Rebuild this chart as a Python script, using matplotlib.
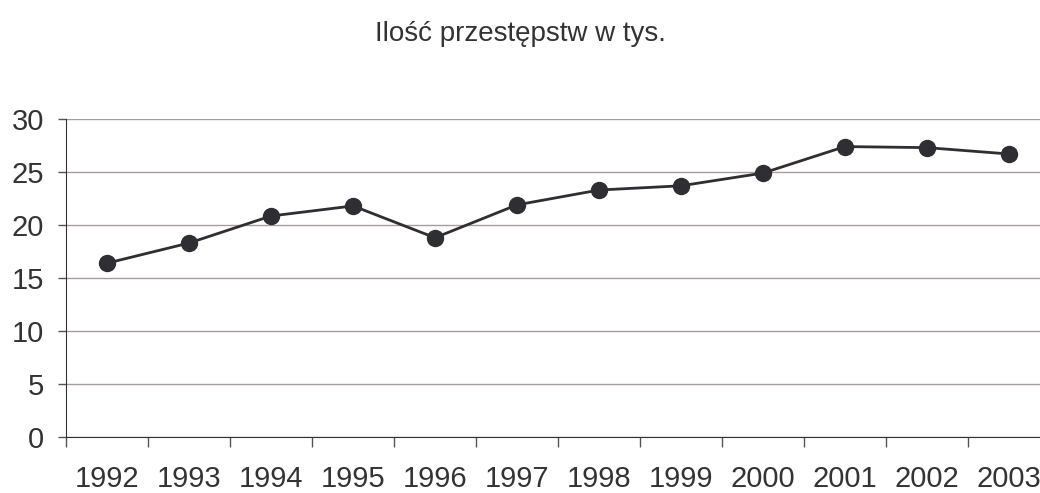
import matplotlib
matplotlib.use('Agg')
import matplotlib.pyplot as plt

plt.rcParams['font.family'] = ['Liberation Sans', 'DejaVu Sans']

lata = ['1992', '1993', '1994', '1995', '1996', '1997', '1998', '1999', '2000', '2001', '2002', '2003']
przestepstwa = [16.4, 18.3, 20.85, 21.8, 18.8, 21.9, 23.3, 23.7, 24.9, 27.4, 27.3, 26.7]

fig = plt.figure(figsize=(10.4, 4.93), dpi=100)
ax = fig.add_axes([0.0635, 0.1136, 0.9461, 0.645])

x = list(range(len(lata)))
ax.plot(x, przestepstwa, color='#2e2e33', linewidth=2, marker='o', markersize=11.5, clip_on=False, zorder=3)

ax.set_xlim(-0.5, len(lata) - 0.5)
ax.set_ylim(0, 30)
ax.set_yticks(range(0, 31, 5))
ax.set_xticks(x)
ax.set_xticklabels(lata)
ax.set_xticks([i - 0.5 for i in range(len(lata) + 1)], minor=True)

ax.grid(axis='y', color='#a89c9c', linewidth=1)
ax.set_axisbelow(True)
for s in ['top', 'right']:
    ax.spines[s].set_visible(False)
ax.spines['left'].set_color('#333333')
ax.spines['bottom'].set_color('#333333')

ax.tick_params(axis='x', which='major', length=0, pad=20, labelsize=21, labelcolor='#333333')
ax.tick_params(axis='x', which='minor', length=7, width=1, color='#555555', direction='out')
ax.tick_params(axis='y', length=6, width=1, color='#555555', pad=10, labelsize=21, labelcolor='#333333')

fig.text(0.5, 0.932, 'Ilość przestępstw w tys.', ha='center', va='center', fontsize=20, color='#333333')

fig.savefig('out.png', dpi=100)
